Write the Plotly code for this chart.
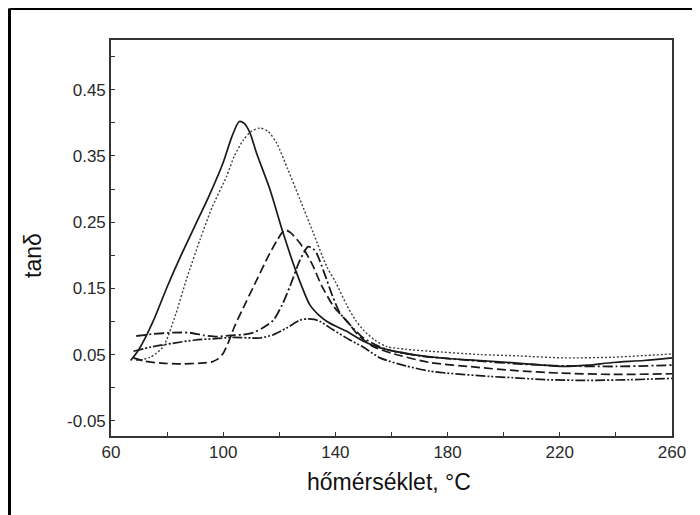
import plotly.graph_objects as go

# ---- data ----
x_solid = [67, 70, 75, 80, 85, 90, 95, 100, 103, 105.7, 107.5, 109.5, 111.9, 116.7, 121.4, 126.2, 130.9, 134, 137, 140, 144, 150, 156, 167.7, 180, 191.6, 205, 221.3, 230, 239, 250, 260]
y_solid = [0.041, 0.058, 0.10, 0.152, 0.200, 0.245, 0.290, 0.340, 0.378, 0.402, 0.399, 0.385, 0.354, 0.299, 0.233, 0.173, 0.125, 0.110, 0.100, 0.093, 0.085, 0.070, 0.060, 0.050, 0.044, 0.041, 0.037, 0.032, 0.034, 0.038, 0.041, 0.045]

x_dot = [69, 74, 78.6, 83, 87, 91.7, 96, 101.2, 104, 107.2, 110, 113.1, 116, 119.1, 123, 127.4, 132, 136.9, 140, 144, 147, 150, 154, 158.3, 165, 173.7, 191.6, 205, 221.3, 239, 260]
y_dot = [0.041, 0.046, 0.062, 0.110, 0.165, 0.223, 0.272, 0.319, 0.350, 0.374, 0.387, 0.392, 0.387, 0.369, 0.330, 0.284, 0.235, 0.183, 0.160, 0.125, 0.103, 0.087, 0.072, 0.062, 0.058, 0.055, 0.050, 0.048, 0.045, 0.046, 0.051]

x_dash = [68, 72, 78, 85, 92, 96, 98, 100, 102, 104, 108, 112, 116, 119, 121, 122.3, 124, 127.4, 130, 132.1, 135, 139.3, 144.6, 148, 153, 160, 173.7, 190, 203.4, 220, 239, 260]
y_dash = [0.045, 0.040, 0.037, 0.036, 0.037, 0.039, 0.043, 0.052, 0.070, 0.092, 0.128, 0.163, 0.198, 0.221, 0.234, 0.238, 0.234, 0.218, 0.200, 0.183, 0.155, 0.123, 0.098, 0.080, 0.063, 0.052, 0.038, 0.031, 0.026, 0.022, 0.020, 0.021]

x_dashdot = [69, 75, 82, 88, 93, 98, 102.4, 107, 110.7, 114, 117.9, 121, 123.8, 127.4, 130.3, 132, 133.3, 135, 136.9, 139, 141.6, 145.2, 150, 158, 170, 180, 191.6, 205, 220, 240, 260]
y_dashdot = [0.078, 0.081, 0.083, 0.083, 0.079, 0.077, 0.079, 0.080, 0.083, 0.090, 0.102, 0.125, 0.153, 0.193, 0.213, 0.210, 0.203, 0.185, 0.163, 0.138, 0.113, 0.095, 0.075, 0.058, 0.048, 0.044, 0.040, 0.036, 0.033, 0.032, 0.034]

x_dd = [68, 75, 82, 90, 97, 103.6, 110, 113.1, 117.9, 122.6, 127.4, 130.3, 132.5, 134.5, 139.3, 145.2, 150, 155.9, 165, 173.7, 179.7, 195, 203.4, 215.3, 230, 245, 260]
y_dd = [0.055, 0.062, 0.067, 0.072, 0.074, 0.076, 0.075, 0.075, 0.080, 0.090, 0.102, 0.104, 0.103, 0.100, 0.087, 0.072, 0.061, 0.045, 0.033, 0.025, 0.022, 0.017, 0.015, 0.012, 0.011, 0.012, 0.014]

x_ticks = [60, 100, 140, 180, 220, 260]
x_minor = [80, 120, 160, 200, 240]
y_ticks = [-0.05, 0.05, 0.15, 0.25, 0.35, 0.45]
y_ticktext = ["-0.05", "0.05", "0.15", "0.25", "0.35", "0.45"]
y_minor = [0.0, 0.1, 0.2, 0.3, 0.4, 0.5]

INK = "#1a1a1a"
FONT = "Liberation Sans, Arial, sans-serif"

fig = go.Figure()
series = [
    (x_solid, y_solid, "solid", 1.7, INK),
    (x_dot, y_dot, "2px,2px", 1.4, "#404040"),
    (x_dash, y_dash, "9px,4px", 1.7, INK),
    (x_dashdot, y_dashdot, "10px,3px,2px,3px", 1.8, INK),
    (x_dd, y_dd, "10px,2px,2px,2px,2px,2px", 1.7, INK),
]
for xs, ys, dash, w, c in series:
    fig.add_trace(go.Scatter(x=xs, y=ys, mode="lines",
                             line=dict(color=c, width=w, dash=dash, shape="spline", smoothing=0.7),
                             showlegend=False, hoverinfo="skip"))

# the page body has an 8px margin, so the figure is sized to end at the window edge
OFF = 8
W, H = 700 - OFF, 515 - OFF
PL, PR, PT, PB = 111, 672, 40, 436          # plot frame in window pixels
L, R, T, B = PL - OFF, 700 - PR, PT - OFF, 515 - PB
pw, ph = PR - PL, PB - PT


def px(xp):
    return (xp - PL) / pw


def py(yp):
    return (PB - yp) / ph


fig.update_layout(
    width=W, height=H,
    margin=dict(l=L, r=R, t=T, b=B),
    paper_bgcolor="white", plot_bgcolor="white",
    font=dict(family=FONT, color="#222222", size=16),
    showlegend=False,
)
fig.update_xaxes(range=[60, 260], tickvals=x_ticks, ticktext=[str(v) for v in x_ticks],
                 ticks="inside", ticklen=4, tickwidth=1.2, tickcolor="#333",
                 minor=dict(tickvals=x_minor, ticks="inside", ticklen=4, tickwidth=1.2, tickcolor="#333"),
                 showline=True, mirror=True, linecolor="#333", linewidth=1.6,
                 showgrid=False, zeroline=False, tickfont=dict(size=17, family=FONT, color="#2a2a2a"))
fig.update_yaxes(range=[-0.073, 0.525], tickvals=y_ticks, ticktext=y_ticktext,
                 ticks="inside", ticklen=4, tickwidth=1.2, tickcolor="#333",
                 minor=dict(tickvals=y_minor, ticks="inside", ticklen=4, tickwidth=1.2, tickcolor="#333"),
                 showline=True, mirror=True, linecolor="#333", linewidth=1.6,
                 showgrid=False, zeroline=False, tickfont=dict(size=17, family=FONT, color="#2a2a2a"))

fig.add_annotation(text="hőmérséklet, °C", xref="paper", yref="paper",
                   x=px(389), y=py(482), xanchor="center", yanchor="middle",
                   showarrow=False, font=dict(size=23, family=FONT, color="#111"))
fig.add_annotation(text="tanδ", xref="paper", yref="paper",
                   x=px(33), y=py(256), xanchor="center", yanchor="middle", textangle=-90,
                   showarrow=False, font=dict(size=23, family=FONT, color="#111"))

# outer scan frame (left and top edges)
fig.add_shape(type="line", xref="paper", yref="paper", x0=px(9.5), x1=px(9.5), y0=py(530), y1=py(8.5),
              line=dict(color="black", width=3))
fig.add_shape(type="line", xref="paper", yref="paper", x0=px(9.5), x1=px(710), y0=py(8.5), y1=py(8.5),
              line=dict(color="black", width=3))

fig.write_html("out.html")
